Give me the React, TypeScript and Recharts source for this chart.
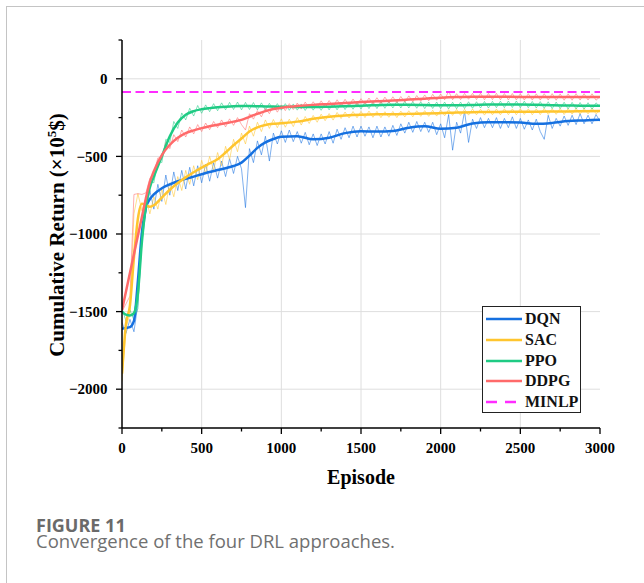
import React from 'react';
import { LineChart, Line, XAxis, YAxis, CartesianGrid, Legend } from 'recharts';

// series, in drawing order
const SERIES_NAMES = ['DQN', 'SAC', 'PPO', 'DDPG'];
const SERIES_COLORS = ['#1570e0', '#ffc52e', '#1fcb84', '#ff6a6a'];
const MINLP_NAME = 'MINLP';
const MINLP_COLOR = '#ff2cff';
const MINLP_VALUE = -85;

const X_TICKS = [0, 250, 500, 750, 1000, 1250, 1500, 1750, 2000, 2250, 2500, 2750, 3000];
const Y_TICKS = [-2250, -2000, -1750, -1500, -1250, -1000, -750, -500, -250, 0, 250];
const GRID_X = [500, 1000, 1500, 2000, 2500];
const GRID_Y = [-2000, -1500, -1000, -500, 0];

// raw returns, one sample every 25 episodes (0 .. 3000)
const RAW_EPISODES = Array.from({ length: 121 }, (_, i) => i * 25);

const DQN_RAW = [
  -1570, -1640, -1550, -1630, -1450, -1050, -860, -720, -840, -680,
  -790, -620, -750, -600, -720, -590, -710, -570, -690, -560,
  -670, -550, -660, -540, -640, -530, -630, -515, -610, -500,
  -580, -830, -450, -540, -400, -490, -370, -530, -350, -420,
  -335, -410, -330, -405, -340, -415, -345, -425, -355, -430,
  -355, -420, -340, -415, -325, -390, -315, -380, -305, -375,
  -305, -370, -310, -380, -305, -375, -310, -370, -300, -365,
  -290, -350, -280, -345, -275, -340, -280, -345, -280, -360,
  -290, -380, -230, -460, -280, -350, -210, -410, -260, -320,
  -250, -315, -255, -315, -250, -320, -255, -315, -245, -320,
  -255, -325, -265, -330, -260, -340, -390, -235, -320, -255,
  -305, -240, -300, -235, -295, -225, -290, -235, -290, -230,
  -275,
];

const SAC_RAW = [
  -1950, -1600, -1520, -870, -740, -850, -770, -870, -760, -840,
  -710, -810, -670, -760, -630, -720, -590, -680, -560, -650,
  -525, -610, -500, -590, -475, -560, -435, -520, -390, -470,
  -350, -420, -305, -370, -280, -340, -265, -320, -262, -315,
  -258, -312, -260, -308, -250, -298, -243, -288, -236, -280,
  -228, -270, -224, -266, -217, -256, -214, -253, -211, -251,
  -210, -250, -208, -248, -210, -250, -212, -248, -210, -250,
  -208, -246, -206, -245, -206, -242, -205, -242, -203, -240,
  -201, -238, -199, -236, -197, -236, -196, -234, -195, -232,
  -196, -234, -194, -232, -195, -232, -193, -231, -194, -232,
  -193, -230, -194, -232, -194, -231, -191, -230, -193, -229,
  -191, -230, -192, -228, -190, -228, -191, -226, -189, -225,
  -205,
];

const PPO_RAW = [
  -1480, -1560, -1490, -1555, -1480, -1000, -860, -660, -670, -525,
  -540, -390, -410, -275, -320, -220, -265, -190, -240, -172,
  -222, -168, -212, -160, -206, -155, -200, -152, -198, -150,
  -200, -152, -198, -153, -200, -155, -202, -158, -200, -160,
  -202, -160, -203, -162, -202, -162, -204, -162, -202, -163,
  -203, -160, -200, -158, -200, -156, -198, -155, -196, -153,
  -194, -150, -192, -148, -192, -147, -190, -146, -188, -146,
  -188, -145, -188, -147, -190, -148, -192, -150, -191, -150,
  -192, -150, -194, -151, -193, -150, -192, -148, -190, -148,
  -188, -146, -188, -145, -186, -144, -186, -143, -185, -143,
  -186, -144, -186, -146, -188, -147, -190, -148, -192, -150,
  -192, -151, -194, -152, -194, -153, -195, -154, -196, -155,
  -180,
];

const DDPG_RAW = [
  -1500, -1450, -1400, -745, -740, -745, -735, -640, -610, -510,
  -510, -410, -450, -360, -405, -330, -375, -310, -355, -295,
  -340, -285, -328, -275, -315, -265, -310, -258, -300, -250,
  -295, -330, -225, -260, -205, -245, -190, -225, -175, -215,
  -168, -205, -160, -198, -156, -195, -150, -188, -148, -185,
  -142, -182, -140, -180, -135, -176, -132, -172, -130, -170,
  -128, -165, -124, -162, -122, -160, -118, -156, -116, -154,
  -114, -150, -110, -148, -108, -145, -104, -142, -100, -138,
  -98, -135, -80, -135, -96, -134, -94, -132, -94, -134,
  -93, -135, -94, -134, -94, -135, -95, -136, -95, -136,
  -96, -137, -96, -137, -97, -137, -96, -137, -96, -138,
  -97, -138, -97, -138, -96, -137, -96, -137, -97, -138,
  -115,
];

// smoothed returns
const SMOOTH_EPISODES = [
  0, 25, 50, 75, 100, 125, 150, 175, 200, 250, 300, 350, 400, 450, 500, 550, 600,
  650, 700, 750, 800, 850, 900, 950, 1000, 1100, 1200, 1300, 1400, 1500, 1600,
  1700, 1800, 1900, 2000, 2100, 2200, 2300, 2400, 2500, 2600, 2700, 2800, 2900, 3000,
];

const DQN_SMOOTH = [
  -1610, -1605, -1600, -1560, -1300, -990, -830, -775, -745, -705, -680, -660, -645, -630, -615, -600, -588,
  -576, -562, -540, -495, -445, -410, -388, -374, -370, -390, -380, -350, -338, -340,
  -336, -315, -306, -322, -315, -288, -280, -280, -282, -290, -284, -272, -268, -264,
];

const SAC_SMOOTH = [
  -1900, -1580, -1460, -1150, -900, -805, -815, -825, -815, -765, -715, -672, -635, -602, -572, -545, -518,
  -475, -428, -385, -340, -313, -298, -290, -286, -276, -258, -245, -236, -231, -229,
  -229, -226, -224, -221, -217, -215, -214, -213, -212, -212, -211, -210, -209, -207,
];

const PPO_SMOOTH = [
  -1500, -1520, -1525, -1510, -1380, -1050, -820, -700, -630, -500, -370, -282, -232, -208, -196, -189, -184,
  -180, -177, -176, -176, -177, -178, -179, -180, -181, -182, -180, -177, -173, -170,
  -167, -167, -169, -171, -171, -169, -166, -165, -165, -167, -170, -172, -174, -174,
];

const DDPG_SMOOTH = [
  -1490, -1370, -1250, -1130, -1010, -890, -770, -665, -595, -492, -425, -380, -350, -332, -318, -306, -296,
  -286, -276, -265, -245, -225, -208, -195, -186, -176, -168, -162, -156, -150, -145,
  -140, -134, -128, -122, -118, -116, -115, -116, -117, -117, -117, -117, -117, -117,
];

const MINLP_EPISODES = [0, 3000];

const RAW_SERIES = [DQN_RAW, SAC_RAW, PPO_RAW, DDPG_RAW];
const SMOOTH_SERIES = [DQN_SMOOTH, SAC_SMOOTH, PPO_SMOOTH, DDPG_SMOOTH];

const rawRows = RAW_EPISODES.map((ep, i) => {
  const row: Record<string, number> = { ep };
  SERIES_NAMES.forEach((name, k) => (row[name] = RAW_SERIES[k][i]));
  return row;
});

const smoothRows = SMOOTH_EPISODES.map((ep, i) => {
  const row: Record<string, number> = { ep };
  SERIES_NAMES.forEach((name, k) => (row[name] = SMOOTH_SERIES[k][i]));
  return row;
});

const minlpRows = MINLP_EPISODES.map((ep) => ({ ep, [MINLP_NAME]: MINLP_VALUE }));

const SERIF = "'Liberation Serif', 'Times New Roman', serif";
const SANS = "'Open Sans', 'Noto Sans', sans-serif";
const AXIS_LINE = { stroke: '#000', strokeWidth: 1.5 };
const fmt = (v: number) => (v < 0 ? '\u2212' + Math.abs(v) : String(v));
const isMajor = (v: number) => v % 500 === 0;

const tickText = { fontFamily: SERIF, fontWeight: 700, fontSize: 15, fill: '#000' };

const BottomTick = (p: any) => {
  const v = p.payload.value;
  return (
    <g>
      <line x1={p.x} x2={p.x} y1={p.y} y2={p.y + (isMajor(v) ? 6 : 3.5)} stroke="#000" strokeWidth={1.3} />
      {isMajor(v) && (
        <text x={p.x} y={p.y + 14} textAnchor="middle" dy="0.71em" {...tickText}>
          {fmt(v)}
        </text>
      )}
    </g>
  );
};

const LeftTick = (p: any) => {
  const v = p.payload.value;
  return (
    <g>
      <line x1={p.x - (isMajor(v) ? 6 : 3.5)} x2={p.x} y1={p.y} y2={p.y} stroke="#000" strokeWidth={1.3} />
      {isMajor(v) && (
        <text x={p.x - 14.5} y={p.y} textAnchor="end" dy="0.35em" {...tickText}>
          {fmt(v)}
        </text>
      )}
    </g>
  );
};

const TopTick = (p: any) => (
  <line x1={p.x} x2={p.x} y1={p.y} y2={p.y + (isMajor(p.payload.value) ? 6 : 3.5)} stroke="#000" strokeWidth={1.3} />
);

const RightTick = (p: any) => (
  <line x1={p.x - (isMajor(p.payload.value) ? 6 : 3.5)} x2={p.x} y1={p.y} y2={p.y} stroke="#000" strokeWidth={1.3} />
);

const legendEntries = [
  ...SERIES_NAMES.map((name, k) => ({ name, color: SERIES_COLORS[k], dash: undefined as string | undefined })),
  { name: MINLP_NAME, color: MINLP_COLOR, dash: '11 8' },
];

const LegendBox = () => (
  <div
    style={{
      width: 99,
      height: 107,
      boxSizing: 'border-box',
      border: '1px solid #222',
      background: '#fff',
      position: 'relative',
    }}
  >
    {legendEntries.map((e, i) => (
      <div
        key={e.name}
        style={{ position: 'absolute', left: 0, top: 2 + i * 20.75, height: 20, display: 'flex', alignItems: 'center' }}
      >
        <svg width={42} height={20}>
          <line x1={3} x2={39} y1={10} y2={10} stroke={e.color} strokeWidth={2.5} strokeDasharray={e.dash} />
        </svg>
        <span style={{ fontFamily: SERIF, fontWeight: 700, fontSize: 16, color: '#111', lineHeight: '20px' }}>{e.name}</span>
      </div>
    ))}
  </div>
);

export default function App() {
  return (
    <div
      style={{
        position: 'absolute',
        left: 0,
        top: 0,
        width: 644,
        height: 583,
        background: '#fff',
        overflow: 'hidden',
      }}
    >
      {/* figure frame */}
      <div
        style={{
          position: 'absolute',
          left: 6,
          top: 6,
          width: 700,
          height: 700,
          borderLeft: '1px solid #c4c4c4',
          borderTop: '1px solid #c4c4c4',
        }}
      />

      <div style={{ position: 'absolute', left: 0, top: 0 }}>
        <LineChart width={644} height={500} margin={{ top: 40, right: 44, bottom: 42, left: 62 }}>
          <CartesianGrid
            xAxisId="b"
            yAxisId="l"
            stroke="#dedede"
            strokeWidth={1}
            horizontalValues={GRID_Y}
            verticalValues={GRID_X}
          />
          <XAxis
            xAxisId="b"
            dataKey="ep"
            type="number"
            domain={[0, 3000]}
            allowDataOverflow
            ticks={X_TICKS}
            interval={0}
            height={30}
            tickSize={0}
            tickMargin={0}
            tickLine={false}
            tick={BottomTick}
            axisLine={AXIS_LINE}
          />
          <XAxis
            xAxisId="t"
            orientation="top"
            dataKey="ep"
            type="number"
            domain={[0, 3000]}
            allowDataOverflow
            ticks={X_TICKS}
            interval={0}
            height={0}
            tickSize={0}
            tickMargin={0}
            tickLine={false}
            tick={TopTick}
            axisLine={AXIS_LINE}
          />
          <YAxis
            yAxisId="l"
            type="number"
            domain={[-2250, 250]}
            allowDataOverflow
            ticks={Y_TICKS}
            interval={0}
            width={60}
            tickSize={0}
            tickMargin={0}
            tickLine={false}
            tick={LeftTick}
            axisLine={AXIS_LINE}
          />
          <YAxis
            yAxisId="r"
            orientation="right"
            type="number"
            domain={[-2250, 250]}
            allowDataOverflow
            ticks={Y_TICKS}
            interval={0}
            width={0}
            tickSize={0}
            tickMargin={0}
            tickLine={false}
            tick={RightTick}
            axisLine={AXIS_LINE}
          />

          {/* raw episode returns */}
          {SERIES_NAMES.map((name, k) => (
            <Line
              key={'raw-' + name}
              xAxisId="b"
              yAxisId="l"
              data={rawRows}
              dataKey={name}
              type="linear"
              stroke={SERIES_COLORS[k]}
              strokeOpacity={0.55}
              strokeWidth={1}
              dot={false}
              activeDot={false}
              legendType="none"
              isAnimationActive={false}
            />
          ))}

          {/* smoothed curves */}
          {SERIES_NAMES.map((name, k) => (
            <Line
              key={'smooth-' + name}
              xAxisId="b"
              yAxisId="l"
              data={smoothRows}
              dataKey={name}
              type="monotone"
              stroke={SERIES_COLORS[k]}
              strokeWidth={2.5}
              dot={false}
              activeDot={false}
              isAnimationActive={false}
            />
          ))}

          <Line
            xAxisId="b"
            yAxisId="l"
            data={minlpRows}
            dataKey={MINLP_NAME}
            type="linear"
            stroke={MINLP_COLOR}
            strokeWidth={2}
            strokeDasharray="9 4.5"
            dot={false}
            activeDot={false}
            isAnimationActive={false}
          />

          <Legend
            layout="vertical"
            align="center"
            verticalAlign="middle"
            content={LegendBox}
            wrapperStyle={{ left: 482, top: 306, width: 99, height: 107 }}
          />
        </LineChart>
      </div>

      {/* axis titles */}
      <div
        style={{
          position: 'absolute',
          left: 57 - 160,
          top: 235 - 12,
          width: 320,
          height: 24,
          lineHeight: '24px',
          textAlign: 'center',
          transform: 'rotate(-90deg)',
          fontFamily: SERIF,
          fontWeight: 700,
          fontSize: 21,
          color: '#000',
          whiteSpace: 'nowrap',
        }}
      >
        Cumulative Return (×10<sup style={{ fontSize: 13, verticalAlign: 'super', lineHeight: 0 }}>5</sup>$)
      </div>
      <div
        style={{
          position: 'absolute',
          left: 261,
          top: 466,
          width: 200,
          textAlign: 'center',
          fontFamily: SERIF,
          fontWeight: 700,
          fontSize: 20,
          color: '#000',
        }}
      >
        Episode
      </div>

      {/* caption */}
      <div
        style={{
          position: 'absolute',
          left: 36,
          top: 518,
          height: 14,
          fontFamily: SANS,
          fontWeight: 700,
          fontSize: 18,
          lineHeight: '14px',
          color: '#6a6a6a',
          whiteSpace: 'nowrap',
        }}
      >
        FIGURE 11
      </div>
      <div
        style={{
          position: 'absolute',
          left: 36,
          top: 533,
          height: 16,
          fontFamily: SANS,
          fontWeight: 400,
          fontSize: 18.5,
          lineHeight: '16px',
          color: '#707070',
          whiteSpace: 'nowrap',
        }}
      >
        Convergence of the four DRL approaches.
      </div>
    </div>
  );
}
